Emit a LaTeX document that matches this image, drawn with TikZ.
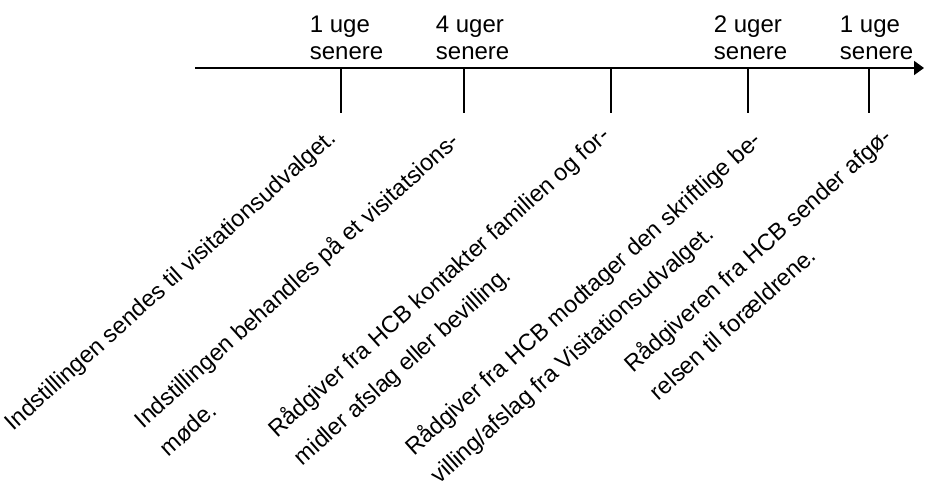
\documentclass[tikz,border=0pt]{standalone}
\usepackage{fontspec}
\setmainfont{Liberation Sans}
\usetikzlibrary{arrows.meta}
\begin{document}
\begin{tikzpicture}[x = 1pt, y = -1pt, line width = 1.8pt,
    weeks/.style = {anchor = base west, align = left, inner sep = 0pt,
      font = \fontsize{24}{27}\selectfont},
    event/.style = {anchor = base west, align = left, inner sep = 0pt,
      rotate = 42, font = \fontsize{23.5}{38}\selectfont}]
      \useasboundingbox (0,0) rectangle (925,486);
      \coordinate (t0) at (195,68);
      \coordinate (tend) at (924,68);
      \draw [-{Triangle[length = 10pt, width = 14pt]}] (t0) -- (tend);
      \foreach \x [count = \i] in {341,464,611,748,869}
        \draw (\x,68) coordinate (tick\i) -- ++(0,45) coordinate (foot\i);
      \node [weeks] (w1) at (309,60) {1 uge\\senere};
      \node [weeks] (w2) at (435,60) {4 uger\\senere};
      \node [weeks] (w3) at (713,60) {2 uger\\senere};
      \node [weeks] (w4) at (839,60) {1 uge\\senere};
      \node [event] (e1) at (13,432) {Indstillingen sendes til visitationsudvalget.};
      \node [event] (e2) at (168,458) {Indstillingen behandles på et visitatsions-\\møde.};
      \node [event] (e3) at (302,467)
        {Rådgiver fra HCB kontakter familien og for-\\midler afslag eller bevilling.};
      \node [event] (e4) at (439,485)
        {Rådgiver fra HCB modtager den skriftlige be-\\villing/afslag fra Visitationsudvalget.};
      \node [event] (e5) at (658,402) {Rådgiveren fra HCB sender afgø-\\relsen til forældrene.};
    \end{tikzpicture}
\end{document}
